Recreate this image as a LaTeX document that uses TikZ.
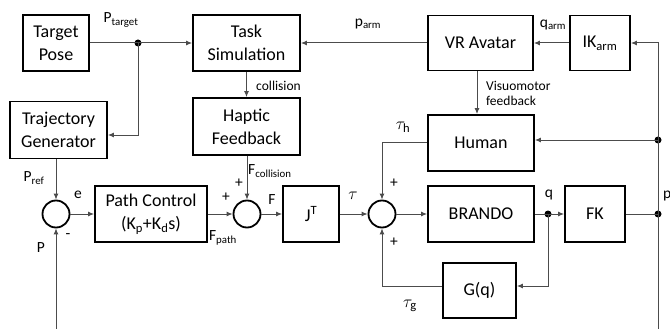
\documentclass[tikz,border=0pt]{standalone}
\usepackage{fontspec}
\setmainfont{Carlito}
\usetikzlibrary{arrows.meta}
\tikzset{
  blk/.style={draw=black, line width=1.8pt, rectangle, align=center, inner sep=0pt,
    font=\fontsize{18}{23}\selectfont},
  sumc/.style={draw=black, line width=1.8pt, circle, minimum size=27pt, inner sep=0pt},
  conn/.style={draw=black!70, line width=1pt},
  arr/.style={conn, -{Latex[length=6pt,width=5pt]}},
  dotc/.style={circle, fill=black, minimum size=7pt, inner sep=0pt},
  lbl/.style={font=\fontsize{15.5}{17}\selectfont, inner sep=0pt},
  tlbl/.style={font=\fontsize{18}{20}\selectfont, inner sep=0pt},
  slbl/.style={font=\fontsize{13.5}{15}\selectfont, inner sep=0pt, align=left},
}
\begin{document}
\begin{tikzpicture}[x=1pt,y=-1pt]
\useasboundingbox (0,0) rectangle (670,329);
% blocks
\node[blk, minimum width=66pt, minimum height=56pt] (tp) at (56,43) {Target\\Pose};
\node[blk, minimum width=97pt, minimum height=57pt] (tg) at (58.5,130) {Trajectory\\Generator};
\node[blk, minimum width=107pt, minimum height=56pt] (ts) at (246.5,43) {Task\\Simulation};
\node[blk, minimum width=107pt, minimum height=57pt] (hf) at (246.5,126.5) {Haptic\\Feedback};
\node[blk, minimum width=105pt, minimum height=55pt] (vr) at (480.5,43) {VR Avatar};
\node[blk, minimum width=60pt, minimum height=55pt] (ik) at (600,43) {IK\textsubscript{arm}};
\node[blk, minimum width=106pt, minimum height=56pt] (hu) at (481,143) {Human};
\node[blk, minimum width=112pt, minimum height=56pt] (pc) at (151,214) {Path Control\\(K\textsubscript{p}+K\textsubscript{d}s)};
\node[blk, minimum width=56pt, minimum height=56pt] (jt) at (311,214) {J\textsuperscript{T}};
\node[blk, minimum width=106pt, minimum height=56pt] (br) at (481,214) {BRANDO};
\node[blk, minimum width=60pt, minimum height=56pt] (fk) at (595,214) {FK};
\node[blk, minimum width=73pt, minimum height=55pt] (gq) at (479.5,290.5) {G(q)};
% sums
\node[sumc] (s1) at (56,214) {};
\node[sumc] (s2) at (247,214) {};
\node[sumc] (s3) at (382,214) {};
% dots
\node[dotc] (d1) at (138,43) {};
\node[dotc] (dq) at (548,214) {};
\node[dotc] (dp) at (658,214) {};
\node[dotc] (dh) at (658,140) {};
% helper coordinates
\coordinate (c1) at (138,135);
\coordinate (c2) at (658,43);
\coordinate (c3) at (382,142);
\coordinate (c4) at (548,286);
\coordinate (c5) at (382,286);
\coordinate (b1) at (56,329);
\coordinate (b2) at (658,329);
% connectors
\draw[conn] (tp.east) -- (d1.center);
\draw[arr] (d1.center) -- (ts.west);
\draw[arr] (d1.center) -- (c1) -- (c1 -| tg.east);
\draw[arr] (ts.south) -- (hf.north);
\draw[arr] (vr.west) -- (ts.east);
\draw[arr] (ik.west) -- (vr.east);
\draw[arr] (b2) -- (c2) -- (ik.east);
\draw[arr] (dh.center) -- (hu.east |- dh.center);
\draw[arr] (vr.south -| 477,0) -- (hu.north -| 477,0);
\draw[arr] (hu.west |- c3) -- (c3) -- (s3.north);
\draw[arr] (tg.south -| s1) -- (s1.north);
\draw[arr] (s1.east) -- (pc.west);
\draw[arr] (pc.east) -- (s2.west);
\draw[arr] (hf.south -| s2) -- (s2.north);
\draw[arr] (s2.east) -- (jt.west);
\draw[arr] (jt.east) -- (s3.west);
\draw[arr] (s3.east) -- (br.west);
\draw[conn] (br.east) -- (dq.center);
\draw[arr] (dq.center) -- (fk.west);
\draw[conn] (fk.east) -- (dp.center);
\draw[arr] (dq.center) -- (c4) -- (c4 -| gq.east);
\draw[arr] (gq.west |- c5) -- (c5) -- (s3.south);
\draw[arr] (b1) -- (s1.south);
% labels
\node[lbl] (lptarget) at (121,20) {P\textsubscript{target}};
\node[lbl] (lparm) at (368,24) {p\textsubscript{arm}};
\node[lbl] (lqarm) at (553,25) {q\textsubscript{arm}};
\node[slbl, anchor=west] (lcoll) at (256,86) {collision};
\node[slbl, anchor=west, align=left] (lvis) at (486,93) {Visuomotor\\feedback};
\node[tlbl] (ltauh) at (403,127) {$\tau_{\mathrm{h}}$};
\node[lbl] (lpref) at (34,178) {P\textsubscript{ref}};
\node[lbl] (le) at (78,195) {e};
\node[lbl] (lminus) at (68,236) {-};
\node[lbl] (lP) at (41,248) {P};
\node[lbl] (lplus1) at (226,197) {+};
\node[lbl] (lplus2) at (239,183) {+};
\node[lbl, anchor=west] (lfcoll) at (248,171) {F\textsubscript{collision}};
\node[lbl] (lfpath) at (223,238) {F\textsubscript{path}};
\node[lbl] (lF) at (272,200) {F};
\node[tlbl] (ltau) at (353,196) {$\tau$};
\node[lbl] (lplus3) at (394,183) {+};
\node[lbl] (lplus4) at (394,242) {+};
\node[lbl] (lq) at (549,195) {q};
\node[lbl, anchor=west] (lp) at (663,196) {p};
\node[tlbl] (ltaug) at (410,306) {$\tau_{\mathrm{g}}$};
\end{tikzpicture}
\end{document}
